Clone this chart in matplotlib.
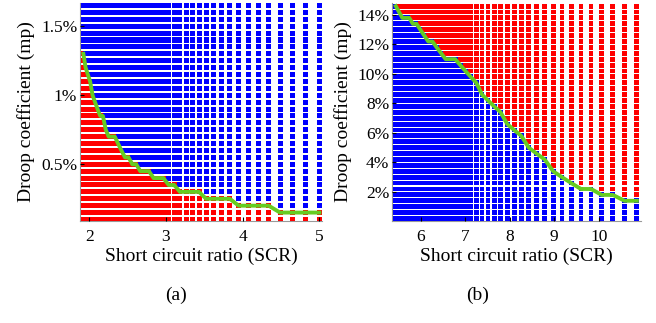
import matplotlib
matplotlib.use('Agg')
import matplotlib.pyplot as plt
import numpy as np

plt.rcParams['font.family'] = ['Liberation Serif', 'DejaVu Serif']

# ---------------- data: panel (a) ----------------
scr_a = [1.923, 1.952, 1.981, 2.011, 2.043, 2.075, 2.108, 2.143, 2.178, 2.215,
         2.253, 2.292, 2.333, 2.375, 2.419, 2.465, 2.512, 2.561, 2.612, 2.665,
         2.720, 2.778, 2.838, 2.900, 2.966, 3.035, 3.106, 3.182, 3.261, 3.344,
         3.431, 3.523, 3.621, 3.723, 3.832, 3.947, 4.070, 4.200, 4.339, 4.487,
         4.646, 4.816, 5.000]
mp_a = [0.10, 0.15, 0.20, 0.25, 0.30, 0.35, 0.40, 0.45, 0.50, 0.55, 0.60,
        0.65, 0.70, 0.75, 0.80, 0.85, 0.90, 0.95, 1.00, 1.05, 1.10, 1.15,
        1.20, 1.25, 1.30, 1.35, 1.40, 1.45, 1.50, 1.55, 1.60, 1.65]
# highest unstable (red) droop value in each SCR column
boundary_a = [1.30, 1.20, 1.15, 1.10, 1.00, 0.95, 0.90, 0.85, 0.85, 0.75,
              0.70, 0.70, 0.70, 0.65, 0.60, 0.55, 0.55, 0.50, 0.50, 0.45,
              0.45, 0.45, 0.40, 0.40, 0.40, 0.35, 0.35, 0.30, 0.30, 0.30,
              0.30, 0.25, 0.25, 0.25, 0.25, 0.20, 0.20, 0.20, 0.20, 0.15,
              0.15, 0.15, 0.15]
xticks_a = [2, 3, 4, 5]
yticks_a = [0.5, 1.0, 1.5]
yticklabels_a = ['0.5%', '1%', '1.5%']

# ---------------- data: panel (b) ----------------
scr_b = [5.443, 5.515, 5.590, 5.666, 5.745, 5.825, 5.908, 5.994, 6.082, 6.172,
         6.265, 6.361, 6.461, 6.563, 6.668, 6.777, 6.890, 7.006, 7.127, 7.251,
         7.380, 7.514, 7.653, 7.796, 7.946, 8.101, 8.262, 8.430, 8.605, 8.787,
         8.978, 9.176, 9.384, 9.601, 9.829, 10.067, 10.318, 10.581, 10.858]
mp_b = [0.2, 0.6, 1.0, 1.4, 1.8, 2.2, 2.6, 3.0, 3.4, 3.8, 4.2, 4.6, 5.0,
        5.4, 5.8, 6.2, 6.6, 7.0, 7.4, 7.8, 8.2, 8.6, 9.0, 9.4, 9.8, 10.2,
        10.6, 11.0, 11.4, 11.8, 12.2, 12.6, 13.0, 13.4, 13.8, 14.2, 14.6]
# highest stable (blue) droop value in each SCR column
boundary_b = [14.6, 14.2, 13.8, 13.8, 13.8, 13.4, 13.4, 13.0, 12.6, 12.2,
              12.2, 11.8, 11.4, 11.0, 11.0, 11.0, 10.6, 10.2, 9.8, 9.4,
              8.6, 8.2, 7.8, 7.4, 6.6, 6.2, 5.8, 5.0, 4.6, 4.2,
              3.4, 3.0, 2.6, 2.2, 2.2, 1.8, 1.8, 1.4, 1.4]
xticks_b = [6, 7, 8, 9, 10]
yticks_b = [2, 4, 6, 8, 10, 12, 14]
yticklabels_b = ['2%', '4%', '6%', '8%', '10%', '12%', '14%']

RED = '#ff0000'
BLUE = '#0000ff'
GREEN = '#66cc22'
W, H = 656, 323

fig = plt.figure(figsize=(W / 100, H / 100), dpi=100)


def style(ax):
    for s in ['top', 'right']:
        ax.spines[s].set_visible(False)
    for s in ['left', 'bottom']:
        ax.spines[s].set_color('#999999')
        ax.spines[s].set_linewidth(0.8)
        ax.spines[s].set_zorder(0.5)
    ax.tick_params(direction='in', length=3, width=0.8, color='black',
                   labelsize=12.5)
    ax.tick_params(axis='x', pad=6)
    ax.tick_params(axis='y', pad=2)


def grid(ax, scr, mp, bnd, below_color, above_color, msize):
    X, Y = np.meshgrid(scr, mp)
    B = np.tile(np.asarray(bnd), (len(mp), 1))
    cols = np.where(Y <= B + 1e-9, below_color, above_color)
    ax.scatter(X.ravel(), Y.ravel(), c=cols.ravel(), marker='s', s=msize,
               linewidths=0, zorder=1)
    ax.plot(scr, bnd, color=GREEN, lw=2.8, zorder=3, solid_joinstyle='round')


# panel (a)
ax_a = fig.add_axes([80 / W, (H - 221) / H, 242 / W, 218 / H])
grid(ax_a, scr_a, mp_a, boundary_a, RED, BLUE, 13)
ax_a.set_xlim(1.879, 5.034)
ax_a.set_ylim(0.089, 1.668)
ax_a.set_xticks(xticks_a)
ax_a.set_xticklabels([str(t) for t in xticks_a])
ax_a.set_yticks(yticks_a)
ax_a.set_yticklabels(yticklabels_a)
style(ax_a)
ax_a.set_xlabel('Short circuit ratio (SCR)', fontsize=14, labelpad=2)
ax_a.set_ylabel('Droop coefficient (mp)', fontsize=14, labelpad=4)

# panel (b)
ax_b = fig.add_axes([392 / W, (H - 221) / H, 249 / W, 218 / H])
grid(ax_b, scr_b, mp_b, boundary_b, BLUE, RED, 12)
ax_b.set_xlim(5.357, 10.95)
ax_b.set_ylim(0.03, 14.81)
ax_b.set_xticks(xticks_b)
ax_b.set_xticklabels([str(t) for t in xticks_b])
ax_b.set_yticks(yticks_b)
ax_b.set_yticklabels(yticklabels_b)
style(ax_b)
ax_b.set_xlabel('Short circuit ratio (SCR)', fontsize=14, labelpad=2)
ax_b.set_ylabel('Droop coefficient (mp)', fontsize=14, labelpad=4)

fig.text(176 / W, 1 - 295 / H, '(a)', ha='center', va='center', fontsize=14)
fig.text(478 / W, 1 - 295 / H, '(b)', ha='center', va='center', fontsize=14)

fig.savefig('out.png', dpi=100)
